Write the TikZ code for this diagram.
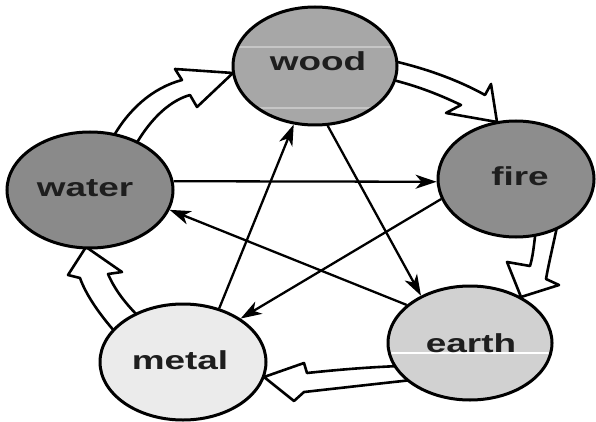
\documentclass[tikz,border=0pt]{standalone}
\usepackage{fontspec}
\newfontfamily\lblfont[FakeStretch=1.42]{Liberation Sans}
\usetikzlibrary{arrows.meta,shapes.geometric,backgrounds}
\definecolor{woodc}{HTML}{A7A7A7}
\definecolor{firec}{HTML}{8D8D8D}
\definecolor{waterc}{HTML}{8A8A8A}
\definecolor{metalc}{HTML}{EBEBEB}
\definecolor{earthc}{HTML}{D1D1D1}
\definecolor{bandc}{HTML}{C6C6C6}
\definecolor{txtc}{HTML}{1E1E1E}
\tikzset{
  elem/.style={ellipse, draw=black, line width=3pt, inner sep=0pt},
  lbl/.style={font=\lblfont\bfseries\fontsize{26}{26}\selectfont, text=txtc, anchor=base, inner sep=0pt},
  ctrl/.style={line width=2.3pt, -{Stealth[length=21pt,width=14pt,inset=6pt]}},
  gen/.style={draw=black, line width=2.6pt, fill=white, line join=round},
  band/.style={line width=2pt}
}
\begin{document}
\begin{tikzpicture}[x=1pt,y=-1pt]
\useasboundingbox (0,0) rectangle (596,422);
% elements
\node[elem, fill=woodc,  minimum width=164pt, minimum height=118pt] (wood)  at (315,66)  {};
\node[elem, fill=firec,  minimum width=156pt, minimum height=116pt] (fire)  at (516,179) {};
\node[elem, fill=waterc, minimum width=166pt, minimum height=116pt] (water) at (90,190)  {};
\node[elem, fill=metalc, minimum width=166pt, minimum height=116pt] (metal) at (183,362) {};
\node[elem, fill=earthc, minimum width=164pt, minimum height=114pt] (earth) at (470,343) {};
% light bands
\begin{scope}
  \clip (315,66) ellipse [x radius=80, y radius=57];
  \draw[band, bandc] (220,47) -- (410,47);
  \draw[band, bandc] (220,108) -- (410,108);
\end{scope}
\begin{scope}
  \clip (470,343) ellipse [x radius=80, y radius=55];
  \draw[band, white] (380,353) -- (560,353);
\end{scope}
% labels
\node[lbl] (woodlbl)  at (318,71)  {wood};
\node[lbl] (firelbl)  at (520,185) {fire};
\node[lbl] (waterlbl) at (85,196)  {water};
\node[lbl] (metallbl) at (180,369) {metal};
\node[lbl] (earthlbl) at (471,352) {earth};
\begin{scope}[on background layer]
  % controlling cycle
  \draw[ctrl] (water.6) -- (fire.182);
  \draw[ctrl] (wood.282) -- (earth.136);
  \draw[ctrl] (earth.149) -- (water.346);
  \draw[ctrl] (fire.195) -- (metal.37);
  \draw[ctrl] (metal.56) -- (wood.250);
  % generating cycle (hollow arrows)
  \draw[gen] (112,139) .. controls (128,110) and (152,88) .. (182,80) -- (175,69) -- (233,73)
     -- (197,107) -- (190,95) .. controls (172,100) and (152,116) .. (135,146) -- cycle;
  \draw[gen] (389,60) .. controls (425,68) and (458,80) .. (485,95) -- (491,84) -- (497,122)
     -- (446,113) -- (461,105) .. controls (440,95) and (418,86) .. (389,79) -- cycle;
  \draw[gen] (536,228) .. controls (534,245) and (533,256) .. (530,266) -- (507,262) -- (521,297)
     -- (559,285) -- (546,279) .. controls (549,262) and (553,246) .. (558,222) -- cycle;
  \draw[gen] (401,366) .. controls (370,367) and (335,370) .. (307,373) -- (304,363) -- (264,377)
     -- (294,401) -- (304,392) .. controls (340,388) and (375,384) .. (412,380) -- cycle;
  \draw[gen] (116,333) .. controls (100,315) and (86,295) .. (80,278) -- (68,275) -- (86,247)
     -- (122,272) -- (108,274) .. controls (115,290) and (125,303) .. (140,318) -- cycle;
\end{scope}
\end{tikzpicture}
\end{document}
